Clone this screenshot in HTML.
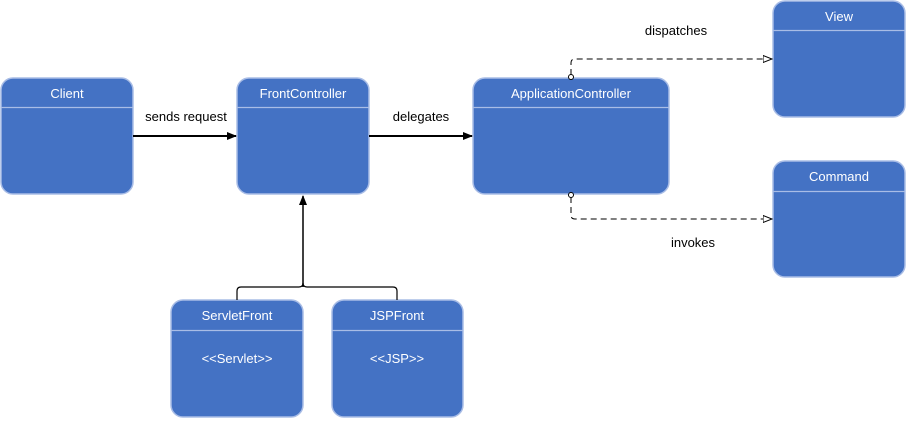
<!DOCTYPE html>
<html><head><meta charset="utf-8"><style>
body{margin:0;background:#fff;}
svg text{font-family:"Liberation Sans",sans-serif;font-size:13px;}
</style></head><body>
<svg width="906" height="418" viewBox="0 0 906 418" xmlns="http://www.w3.org/2000/svg">
<defs>
<marker id="a" markerWidth="10" markerHeight="8" refX="9" refY="4" orient="auto" markerUnits="userSpaceOnUse"><path d="M0,0 L10,4 L0,8 Z" fill="#000"/></marker>
<marker id="o" markerWidth="10" markerHeight="8" refX="9" refY="4" orient="auto" markerUnits="userSpaceOnUse"><path d="M0,0.5 L9,4 L0,7.5 Z" fill="#fff" stroke="#000" stroke-width="1"/></marker>
</defs>
<g stroke="#a9bde6" stroke-width="1.5" fill="#4472c4">
<rect x="1" y="78" width="132" height="116" rx="12"/>
<rect x="237" y="78" width="132" height="116" rx="12"/>
<rect x="473" y="78" width="196" height="116" rx="12"/>
<rect x="773" y="1" width="132" height="116" rx="12"/>
<rect x="773" y="161" width="132" height="116" rx="12"/>
<rect x="171" y="300" width="132" height="117" rx="12"/>
<rect x="332" y="300" width="131" height="117" rx="12"/>
</g>
<g stroke="#a9bde6" stroke-width="1.2">
<line x1="1" y1="107.5" x2="133" y2="107.5"/>
<line x1="237" y1="107.5" x2="369" y2="107.5"/>
<line x1="473" y1="107.5" x2="669" y2="107.5"/>
<line x1="773" y1="30.5" x2="905" y2="30.5"/>
<line x1="773" y1="191.5" x2="905" y2="191.5"/>
<line x1="171" y1="330.5" x2="303" y2="330.5"/>
<line x1="332" y1="330.5" x2="463" y2="330.5"/>
</g>
<g fill="#fff" text-anchor="middle">
<text x="67" y="98">Client</text>
<text x="303" y="98">FrontController</text>
<text x="571" y="98">ApplicationController</text>
<text x="839" y="21">View</text>
<text x="839" y="181">Command</text>
<text x="237" y="320">ServletFront</text>
<text x="237" y="363">&lt;&lt;Servlet&gt;&gt;</text>
<text x="397" y="320">JSPFront</text>
<text x="397" y="363">&lt;&lt;JSP&gt;&gt;</text>
</g>
<g fill="#000" text-anchor="middle">
<text x="186" y="121">sends request</text>
<text x="421" y="121">delegates</text>
<text x="676" y="35">dispatches</text>
<text x="693" y="247">invokes</text>
</g>
<g stroke="#000" stroke-width="2" fill="none">
<line x1="133" y1="136" x2="236" y2="136" marker-end="url(#a)"/>
<line x1="369" y1="136" x2="472" y2="136" marker-end="url(#a)"/>
<line x1="303" y1="287" x2="303" y2="196" stroke-width="1.5" marker-end="url(#a)"/>
</g>
<path d="M237,300 V291 Q237,287 241,287 H299 Q303,287 303,283 Q303,287 307,287 H393 Q397,287 397,291 V300" stroke="#000" stroke-width="1.2" fill="none"/>
<g stroke="#000" stroke-width="1" fill="none" stroke-dasharray="6,4">
<path d="M571,75 V63 Q571,59 575,59 H772" marker-end="url(#o)"/>
<path d="M571,197 V215 Q571,219 575,219 H772" marker-end="url(#o)"/>
</g>
<circle cx="571" cy="77" r="2.5" fill="#fff" stroke="#000"/>
<circle cx="571" cy="195" r="2.5" fill="#fff" stroke="#000"/>
</svg>
</body></html>
